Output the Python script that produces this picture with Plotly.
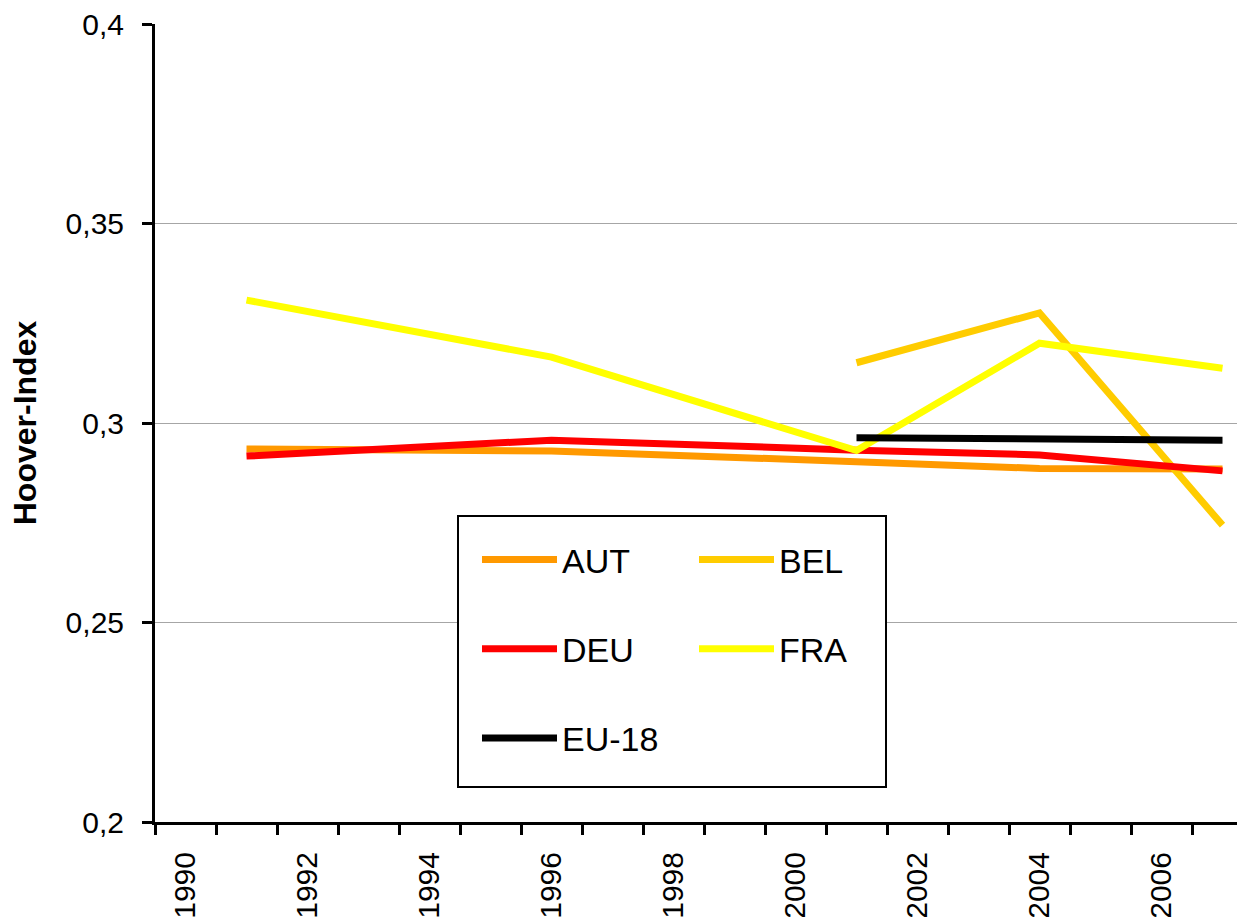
import plotly.graph_objects as go

years_long = [1991, 1996, 2001, 2004, 2007]
years_short = [2001, 2004, 2007]

aut = [0.2935, 0.2930, 0.2903, 0.2886, 0.2885]
deu = [0.2917, 0.2957, 0.2932, 0.2920, 0.2880]
fra = [0.3308, 0.3165, 0.2931, 0.3200, 0.3137]
bel = [0.3151, 0.3276, 0.2744]
eu18 = [0.2963, 0.2962, 0.2957]

x_label_years = [1990, 1992, 1994, 1996, 1998, 2000, 2002, 2004, 2006]
x_tick_bounds = [y - 0.5 for y in range(1990, 2008)]
y_ticks = [0.2, 0.25, 0.3, 0.35, 0.4]
y_ticktext = ["0,2", "0,25", "0,3", "0,35", "0,4"]

W, H = 1237, 917
L, T, B, R = 155, 24, 95, 0
plot_w = W - L - R
px_per_year = 61.0
x_range = [1989.5, 1989.5 + plot_w / px_per_year]

FONT = "Liberation Sans, Arial, sans-serif"
LW = 7

fig = go.Figure()
series = [
    ("AUT", years_long, aut, "#FF9900", "legend"),
    ("BEL", years_short, bel, "#FFCC00", "legend2"),
    ("DEU", years_long, deu, "#FF0000", "legend"),
    ("FRA", years_long, fra, "#FFFF00", "legend2"),
    ("EU-18", years_short, eu18, "#000000", "legend"),
]
for name, xs, ys, col, lg in series:
    fig.add_trace(go.Scatter(
        x=xs, y=ys, name=name, mode="lines",
        line=dict(color=col, width=LW),
        legend=lg, legendgroup=name,
    ))

def px_to_paper_x(px):
    return (px - L) / plot_w

def px_to_paper_y(py):
    return (H - B - py) / (H - T - B)

legend_common = dict(
    bgcolor="rgba(0,0,0,0)", borderwidth=0,
    font=dict(family=FONT, size=34, color="#000000"),
    orientation="v", tracegroupgap=42, itemwidth=75,
    xanchor="left", yanchor="top",
)

fig.update_layout(
    width=W, height=H,
    margin=dict(l=L, r=R, t=T, b=B, pad=0),
    paper_bgcolor="white", plot_bgcolor="white",
    font=dict(family=FONT, size=30, color="#000000"),
    showlegend=True,
    legend=dict(legend_common, x=px_to_paper_x(477), y=px_to_paper_y(531)),
    legend2=dict(legend_common, x=px_to_paper_x(694), y=px_to_paper_y(531)),
    xaxis=dict(
        range=x_range, tickmode="array", tickvals=x_label_years,
        ticktext=[str(v) for v in x_label_years], ticks="", tickangle=-90,
        ticklabelstandoff=15, automargin=False,
        showgrid=False, zeroline=False,
        showline=True, linecolor="#000000", linewidth=3,
        tickfont=dict(family=FONT, size=30, color="#000000"),
        minor=dict(tickmode="array", tickvals=x_tick_bounds, ticks="outside",
                   ticklen=10, tickwidth=2.5, tickcolor="#000000", showgrid=False),
    ),
    yaxis=dict(
        range=[0.2, 0.4], tickmode="array", tickvals=y_ticks, ticktext=y_ticktext,
        ticks="outside", ticklen=10, tickwidth=2.5, tickcolor="#000000",
        ticklabelstandoff=12, automargin=False,
        showgrid=True, gridcolor="#A6A6A6", gridwidth=1.3,
        zeroline=False, showline=True, linecolor="#000000", linewidth=3,
        tickfont=dict(family=FONT, size=30, color="#000000"),
        title=dict(text="<b>Hoover-Index</b>", standoff=20,
                   font=dict(family=FONT, size=32, color="#000000")),
    ),
    shapes=[dict(
        type="rect", xref="paper", yref="paper", layer="above",
        x0=px_to_paper_x(458), x1=px_to_paper_x(886),
        y0=px_to_paper_y(787), y1=px_to_paper_y(516),
        line=dict(color="#000000", width=2), fillcolor="white",
    )],
)

fig.write_html(
    "out.html",
    post_script="document.body.style.margin='0';document.body.style.overflow='hidden';",
    config={"displayModeBar": False},
)
